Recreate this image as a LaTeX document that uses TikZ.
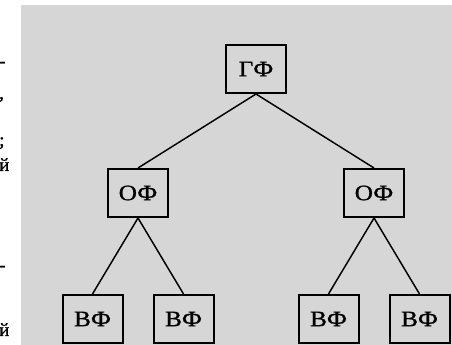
\documentclass[tikz,border=0pt]{standalone}
\usepackage{fontspec}
\setmainfont{Liberation Serif}
\newfontfamily\boxfont[FakeStretch=1.15, FakeBold=1]{Liberation Serif}
\newfontfamily\pagefont[FakeBold=1]{Liberation Serif}
\definecolor{paper}{RGB}{214,214,214}
\begin{document}
\begin{tikzpicture}[
            x=0.75pt, y=0.75pt,
            grow=down,
            level 1/.style={level distance=93pt, sibling distance=177pt},
            level 2/.style={level distance=94.5pt, sibling distance=68.25pt},
            func/.style = {shape=rectangle, draw, line width=1.5pt, fill=paper, minimum width=45pt, minimum height=36pt, inner sep=0pt, font=\boxfont\fontsize{16.5}{18}\selectfont},
            margin/.style = {anchor=base west, inner sep=0pt, font=\pagefont\fontsize{14}{16}\selectfont},
            edge from parent/.style={draw, line width=1.1pt},
            edge from parent path={(\tikzparentnode.south) -- (\tikzchildnode.north)}
        ]

        \useasboundingbox (0,0) rectangle (452,345);
        \fill[paper] (21,0) rectangle (452,340);

        % cut-off line ends of the page text
        \node[margin] (t1) at (-1,278) {-};
        \node[margin] (t2) at (-1,246) {,};
        \node[margin] (t3) at (-1,199) {;};
        \node[margin] (t4) at (-1,174) {й};
        \node[margin] (t5) at (-1,74) {-};
        \node[margin] (t6) at (-1,9) {й};

        \node[func] (gf) at (256,276) {ГФ}
        child { node[func] (of1) {ОФ}
                child { node[func] (vf1) {ВФ} }
                child { node[func] (vf2) {ВФ} }
            }
        child { node[func] (of2) {ОФ}
                child { node[func] (vf3) {ВФ} }
                child { node[func] (vf4) {ВФ} }
            };

    \end{tikzpicture}
\end{document}
